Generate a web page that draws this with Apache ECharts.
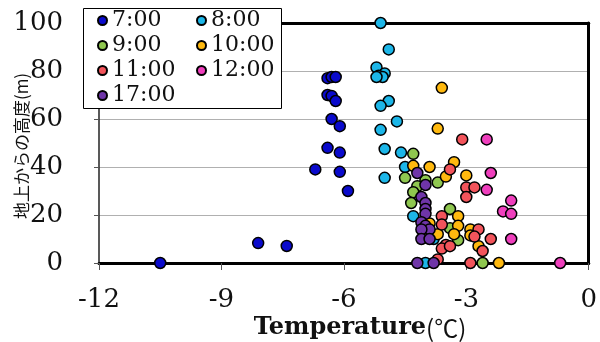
<!DOCTYPE html>
<html>
<head>
<meta charset="utf-8">
<script src="https://cdn.jsdelivr.net/npm/echarts@6/dist/echarts.min.js"></script>
<style>
  html, body { margin: 0; padding: 0; background: #fff; }
  #chart { width: 600px; height: 342px; }
</style>
</head>
<body>
<div id="chart"></div>
<script>
// Temperature profiles: [temperature (°C), height above ground (m)]
const seriesNames = ['7:00', '8:00', '9:00', '10:00', '11:00', '12:00', '17:00'];
const seriesColors = ['#0a0acc', '#1cb6e8', '#8fc74f', '#ffb90f', '#f2545b', '#ef3fbd', '#6f35a8'];

const t0700 = [[-10.5, 0], [-8.1, 8.3], [-7.4, 7.1], [-6.4, 77], [-6.3, 77.5], [-6.2, 77.5],
  [-6.4, 70], [-6.3, 69.6], [-6.2, 67.5], [-6.3, 60], [-6.1, 57], [-6.4, 48], [-6.1, 46],
  [-6.7, 39], [-6.1, 38], [-5.9, 30]];
const t0800 = [[-5.1, 100], [-4.9, 89], [-5.2, 81.5], [-5.0, 79], [-5.15, 78], [-5.05, 77.5],
  [-5.2, 77.5], [-4.9, 67.5], [-5.1, 65.5], [-4.7, 59], [-5.1, 55.5], [-5.0, 47.5], [-4.6, 46],
  [-4.5, 40], [-5.0, 35.5], [-4.3, 19.5], [-3.8, 10], [-4.0, 0]];
const t0900 = [[-4.3, 45.5], [-4.5, 35.5], [-4.0, 34.5], [-4.2, 32], [-4.3, 29.5], [-4.35, 25],
  [-3.7, 33.5], [-3.4, 22.5], [-3.4, 14.5], [-3.2, 9.5], [-2.6, 0]];
const t1000 = [[-3.6, 73], [-3.7, 56], [-4.3, 40.5], [-3.9, 40], [-3.3, 42], [-3.5, 36],
  [-3.0, 36.5], [-3.2, 19.5], [-3.2, 15.5], [-3.3, 12], [-2.9, 14], [-2.9, 11.5], [-2.7, 7],
  [-2.2, 0], [-3.9, 16.5], [-3.7, 12]];
const t1100 = [[-3.1, 51.5], [-3.4, 39], [-3.0, 31.5], [-2.8, 31.5], [-3.0, 27.5], [-3.6, 19.5],
  [-3.6, 16], [-2.7, 14], [-2.8, 11], [-2.4, 10], [-2.6, 5], [-3.5, 7.5], [-3.6, 6], [-3.4, 7],
  [-3.7, 1.5], [-2.9, 0]];
const t1200 = [[-2.5, 51.5], [-2.4, 37.5], [-2.5, 30.5], [-1.9, 26], [-2.1, 21.5], [-1.9, 20.5],
  [-1.9, 10], [-0.7, 0]];
const t1700 = [[-4.2, 37.5], [-4.0, 32.5], [-4.1, 27.5], [-4.0, 25], [-4.0, 22.5], [-4.0, 20.5],
  [-4.1, 17], [-4.0, 15.5], [-3.9, 14], [-4.1, 14], [-4.1, 10], [-3.9, 10], [-4.2, 0], [-3.8, 0]];

const seriesData = [t0700, t0800, t0900, t1000, t1100, t1200, t1700];

const xTitle = 'Temperature';
const xUnit = '(℃)';
const yTitle = '地上からの高度(m)';

const serif = '"DejaVu Serif", "Liberation Serif", serif';

const chart = echarts.init(document.getElementById('chart'), null, { renderer: 'canvas' });

const plot = { left: 99, top: 23, right: 9, bottom: 79 };

chart.setOption({
  animation: false,
  backgroundColor: '#fff',
  grid: { left: plot.left, top: plot.top, right: plot.right, bottom: plot.bottom, containLabel: false },
  xAxis: [{
    type: 'value', min: -12, max: 0, interval: 3, position: 'bottom',
    axisLine: { show: true, onZero: false, lineStyle: { color: '#000', width: 3 } },
    axisTick: { show: true, inside: false, length: 7, lineStyle: { color: '#555', width: 1 } },
    axisLabel: { color: '#111', fontFamily: serif, fontSize: 26, margin: 24 },
    splitLine: { show: false }
  }, {
    type: 'value', min: -12, max: 0, position: 'top',
    axisLine: { show: true, onZero: false, lineStyle: { color: '#000', width: 3 } },
    axisTick: { show: false }, axisLabel: { show: false }, splitLine: { show: false }
  }],
  yAxis: [{
    type: 'value', min: 0, max: 100, interval: 20, position: 'left',
    axisLine: { show: true, onZero: false, lineStyle: { color: '#222', width: 1.5 } },
    axisTick: { show: true, inside: false, length: 5, lineStyle: { color: '#555', width: 1 } },
    axisLabel: { color: '#111', fontFamily: serif, fontSize: 26, margin: 36 },
    splitLine: { show: true, lineStyle: { color: '#b0b0b0', width: 1 } }
  }, {
    type: 'value', min: 0, max: 100, position: 'right',
    axisLine: { show: true, onZero: false, lineStyle: { color: '#000', width: 3 } },
    axisTick: { show: false }, axisLabel: { show: false }, splitLine: { show: false }
  }],
  legend: {
    left: 83, top: 8, width: 200,
    padding: [0, 0, 0, 14],
    itemGap: 0,
    itemWidth: 9, itemHeight: 9,
    icon: 'circle',
    z: 20,
    data: seriesNames,
    textStyle: { fontFamily: serif, fontSize: 22, color: '#111', width: 84, lineHeight: 25 }
  },
  graphic: [
    {
      type: 'rect', z: 15, silent: true,
      shape: { x: 83.5, y: 8.5, width: 198, height: 100 },
      style: { fill: '#fff', stroke: '#000', lineWidth: 1 }
    },
    {
      type: 'text', z: 15, x: 360, y: 328,
      style: {
        text: '{b|' + xTitle + '}{n|' + xUnit + '}',
        align: 'center', verticalAlign: 'middle',
        rich: {
          b: { fontFamily: serif, fontWeight: 'bold', fontSize: 24, fill: '#111' },
          n: { fontFamily: '"Noto Sans CJK JP", sans-serif', fontSize: 24, fill: '#111' }
        }
      }
    },
    {
      type: 'text', z: 15, x: 22, y: 146, rotation: Math.PI / 2,
      style: {
        text: yTitle, align: 'center', verticalAlign: 'middle',
        font: '17px "Noto Sans CJK JP", sans-serif', fill: '#111'
      }
    }
  ],
  series: seriesData.map((d, i) => ({
    name: seriesNames[i],
    type: 'scatter',
    data: d,
    symbol: 'circle',
    symbolSize: 11,
    itemStyle: { color: seriesColors[i], borderColor: '#000', borderWidth: 1.5, opacity: 1 },
    emphasis: { disabled: true }
  }))
});
</script>
</body>
</html>
